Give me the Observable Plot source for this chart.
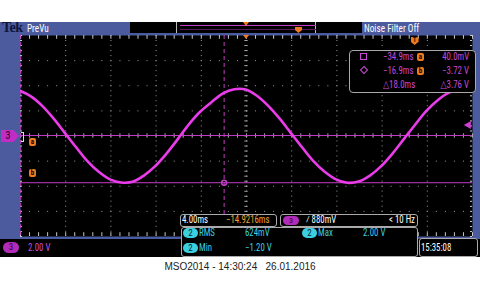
<!DOCTYPE html>
<html><head><meta charset="utf-8">
<script src="https://cdn.jsdelivr.net/npm/d3@7"></script>
<script src="https://cdn.jsdelivr.net/npm/@observablehq/plot@0.6"></script>
<style>
html,body{margin:0;padding:0;background:#fff;}
#root{position:relative;width:480px;height:292px;overflow:hidden;background:#fff;font-family:"Liberation Sans Narrow","Roboto Condensed","DejaVu Sans Condensed",Roboto,sans-serif;}
.a{position:absolute;white-space:pre;line-height:1;}
#root svg{position:absolute;left:0;top:0;z-index:2;}
.ov{z-index:3;}
</style></head><body><div id="root"></div>
<script>
// ---- data ----
const times = [-35,-34,-33,-32,-31,-30,-29,-28,-27,-26,-25,-24,-23,-22,-21,-20,-19,-18,-17,-16,-15,-14,-13,-12,-11,-10,-9,-8,-7,-6,-5,-4,-3,-2,-1,0,1,2,3,4,5]; // ms
const volts = [3.60,3.15,2.40,1.40,0.25,-0.90,-2.00,-2.85,-3.45,-3.70,-3.65,-3.15,-2.40,-1.40,-0.25,0.95,1.95,2.70,3.40,3.72,3.70,3.20,2.40,1.40,0.25,-0.90,-2.00,-2.85,-3.45,-3.72,-3.62,-3.15,-2.40,-1.40,-0.25,0.90,2.00,2.85,3.45,3.72,3.62]; // V
const divTimes = [-34.92,-30.92,-26.92,-22.92,-18.92,-14.92,-10.92,-6.92,-2.92,1.08,5.08]; // 4 ms/div
const divVolts = [-8,-6,-4,-2,0,2,4,6,8]; // 2 V/div
const cursorTimes = [-34.9,-16.9];
const cursorVolts = [0.04,-3.72];
const triggerLevel = 0.88;
const triggerTime = 0;
const cursorLabels = ["−34.9ms","−16.9ms","△18.0ms"];
const cursorVLabels = ["40.0mV","−3.72 V","△3.76 V"];
const measLabels = [["RMS","624mV"],["Max","2.00 V"],["Min","−1.20 V"]];
const caption = "MSO2014 - 14:30:24   26.01.2016";

const BLUE="#4b5b9e", MAG="#e22ae2", CUR="#c23cc6", ORANGE="#f07a1e", CYAN="#3ccfe0", TXTM="#c848d4";
const trace = times.map((t,i)=>({t, v: volts[i]}));
const center = divTimes[5];
const minorT = d3.range(0,51).map(k => divTimes[0] + 0.8*k);
const minorV = d3.range(0,41).map(k => -8 + 0.4*k);

const root = document.getElementById("root");
function box(x,y,w,h,css){const d=document.createElement("div");d.className="a";d.style.cssText=`left:${x}px;top:${y}px;width:${w}px;height:${h}px;`+(css||"");root.appendChild(d);return d;}
function txt(s,x,cy,size,color,css){const d=document.createElement("div");d.className="a ov";d.textContent=s;d.style.cssText=`left:${x}px;top:${cy-size/2}px;font-size:${size}px;height:${size}px;color:${color};transform:scaleX(0.84);transform-origin:left center;`+(css||"");root.appendChild(d);return d;}
function rtxt(s,xr,cy,size,color){const d=txt(s,0,cy,size,color);d.style.left="auto";d.style.right=(480-xr)+"px";d.style.transformOrigin="right center";return d;}

// background chrome
box(0,22,480,218,`background:${BLUE};`);
box(130,22,232,11,"background:#000;");
box(176,22,140,11,"background:#000;border-left:1px solid #bbb;border-right:1px solid #bbb;box-sizing:border-box;");
box(180,25,136,1,`background:${CUR};`);
box(180,29,136,1,"background:#5a1860;");
box(0,239,480,18,"background:#000;");

// plot
const chart = Plot.plot({
  width:480, height:292,
  marginLeft:20, marginRight:8, marginTop:35, marginBottom:56,
  x:{domain:[divTimes[0],divTimes[10]], axis:null},
  y:{domain:[-8,8], axis:null},
  style:{background:"transparent", overflow:"visible"},
  marks:[
    Plot.frame({fill:"#000"}),
    Plot.ruleX(divTimes.slice(1,-1), {stroke:"#9a9a9a", strokeDasharray:"1,4.02"}),
    Plot.ruleY(divVolts.slice(1,-1), {stroke:"#9a9a9a", strokeDasharray:"1,8.04"}),
    Plot.ruleX(minorT, {y1:-0.18, y2:0.18, stroke:"#a0a0a0"}),
    Plot.ruleY(minorV, {x1:center-0.15, x2:center+0.15, stroke:"#a0a0a0"}),
    Plot.ruleX(minorT, {y1:8, y2:7.7, stroke:"#c8c8c8"}),
    Plot.ruleX(minorT, {y1:-8, y2:-7.7, stroke:"#c8c8c8"}),
    Plot.ruleY(minorV, {x1:divTimes[0], x2:divTimes[0]+0.18, stroke:"#c8c8c8"}),
    Plot.ruleY(minorV, {x1:divTimes[10], x2:divTimes[10]-0.18, stroke:"#c8c8c8"}),
    Plot.ruleY(cursorVolts, {stroke:CUR, strokeWidth:1}),
    Plot.ruleX(cursorTimes, {stroke:CUR, strokeDasharray:"4,3", strokeWidth:1}),
    Plot.line(trace, {x:"t", y:"v", curve:"catmull-rom", stroke:MAG, strokeWidth:5, strokeOpacity:0.85, clip:true, ariaLabel:"trace fuzz"}),
    Plot.line(trace, {x:"t", y:"v", curve:"catmull-rom", stroke:"#ea3cea", strokeWidth:2.6, clip:true}),
    Plot.dot([{t:cursorTimes[1], v:cursorVolts[1]}], {x:"t", y:"v", r:2.5, stroke:CUR, fill:"none"}),
    Plot.dot([{t:divTimes[10], v:triggerLevel}], {x:"t", y:"v", symbol:"triangle", rotate:-90, r:3, fill:"#d040d0", dx:-4})
  ]
});
const ns="http://www.w3.org/2000/svg";
const defs=document.createElementNS(ns,"defs");
defs.innerHTML='<filter id="fuzz" x="-5%" y="-20%" width="110%" height="140%"><feTurbulence type="fractalNoise" baseFrequency="1.3" numOctaves="2" seed="7" result="n"/><feDisplacementMap in="SourceGraphic" in2="n" scale="7" xChannelSelector="R" yChannelSelector="G"/></filter>';
chart.prepend(defs);
const fz=chart.querySelector('[aria-label="trace fuzz"]'); if(fz) fz.setAttribute("filter","url(#fuzz)");
root.appendChild(chart);

// header texts
txt("Tek",2,28,14,"#10153a","font-family:'Liberation Serif',serif;font-weight:bold;letter-spacing:-0.5px;transform:none;");
txt("PreVu",27,28,11,"#fff");
txt("Noise Filter Off",364,28,11,"#fff");
// orange markers
box(243,22,0,0,`border-left:3px solid transparent;border-right:3px solid transparent;border-top:4px solid ${ORANGE};z-index:3;`);
box(295,27,7,6,`background:${ORANGE};clip-path:polygon(0 0,100% 0,100% 50%,50% 100%,0 50%);z-index:3;`);
box(243,35,0,0,`border-left:3px solid transparent;border-right:3px solid transparent;border-top:4px solid ${ORANGE};z-index:3;`);
const xPx = t => 20 + (t - divTimes[0]) / 40 * 452;
const tm = box(xPx(triggerTime)-4,37,8,8,`background:${ORANGE};clip-path:polygon(0 0,100% 0,100% 60%,50% 100%,0 60%);z-index:3;color:#402000;font-size:7px;text-align:center;line-height:7px;font-weight:bold;`); tm.textContent="T";

// channel 3 marker on left
const c3=box(1,130,18,12,`background:#c02cc4;clip-path:polygon(0 0,70% 0,100% 50%,70% 100%,0 100%);z-index:3;color:#2a002a;font-size:10px;line-height:12px;text-align:center;box-sizing:border-box;padding-right:4px;`); c3.textContent="3";
box(21,132,2,8,"border:1px solid #ddd;border-left:none;z-index:3;");
function orangeTag(s,x,y){const d=box(x,y,7,8,`background:${ORANGE};border-radius:2px;color:#200;font-size:7px;line-height:8px;text-align:center;z-index:5;font-weight:bold;`);d.textContent=s;}
orangeTag("a",29,138); orangeTag("b",29,169);

// cursor readout box
box(349,50,127,43,"background:#000;border:1px solid #aaa;border-radius:4px;box-sizing:border-box;z-index:3;");
box(360,53,7,7,`border:1px solid ${TXTM};box-sizing:border-box;z-index:4;`);
box(361,67,6,6,`border:1px solid ${TXTM};transform:rotate(45deg);box-sizing:border-box;z-index:4;`);
const rowsY=[57,71,85];
cursorLabels.forEach((s,i)=>{txt(s,383,rowsY[i],10.5,TXTM).style.zIndex=5;});
orangeTag("a",417,53); orangeTag("b",417,67);
cursorVLabels.forEach((s,i)=>{rtxt(s,469,rowsY[i],10.5,TXTM).style.zIndex=5;});

// horizontal / trigger boxes
box(180,214,97,13,"background:#000;border:1px solid #aaa;border-radius:3px;box-sizing:border-box;z-index:3;");
txt("4.00ms",182,220.5,10.5,"#fff").style.zIndex=5;
txt("−14.9216ms",226,220.5,10.5,"#f0a030").style.zIndex=5;
box(280,214,138,13,"background:#000;border:1px solid #aaa;border-radius:3px;box-sizing:border-box;z-index:3;");
const p3=box(283,216,16,9,"background:#b02cb8;border-radius:5px;color:#300030;font-size:8px;line-height:9px;text-align:center;z-index:5;"); p3.textContent="3";
txt("⁄ 880mV",306,220.5,10.5,"#fff").style.zIndex=5;
rtxt("< 10 Hz",415,220.5,10.5,"#fff").style.zIndex=5;

// measurement box
box(181,227,237,30,"background:#000;border:1px solid #aaa;border-radius:3px;box-sizing:border-box;z-index:3;");
function pill(x,y){const d=box(x,y,15,10,`background:${CYAN};border-radius:5px;color:#05283a;font-size:9px;line-height:10px;text-align:center;z-index:5;`);d.textContent="2";}
pill(183,228); txt(measLabels[0][0],199,233,10.5,CYAN).style.zIndex=5; txt(measLabels[0][1],245,233,10.5,CYAN).style.zIndex=5;
pill(302,228); txt(measLabels[1][0],318,233,10.5,CYAN).style.zIndex=5; txt(measLabels[1][1],363,233,10.5,CYAN).style.zIndex=5;
pill(183,243); txt(measLabels[2][0],199,248,10.5,CYAN).style.zIndex=5; txt(measLabels[2][1],245,248,10.5,CYAN).style.zIndex=5;

// timestamp box
box(419,238,59,19,"background:#000;border:1px solid #aaa;border-radius:3px;box-sizing:border-box;z-index:3;");
txt("15:35:08",421,248,10.5,"#fff").style.zIndex=5;

// bottom-left channel scale
const b3=box(3,242,16,11,"background:#b02cb8;border-radius:6px;color:#300030;font-size:9px;line-height:11px;text-align:center;z-index:5;"); b3.textContent="3";
txt("2.00 V",28,248,10.5,"#d050d8").style.zIndex=5;

// caption
const cap=txt(caption,0,267,10,"#222","font-family:'Liberation Sans',Arial,sans-serif;width:480px;text-align:center;transform:none;");
</script></body></html>
